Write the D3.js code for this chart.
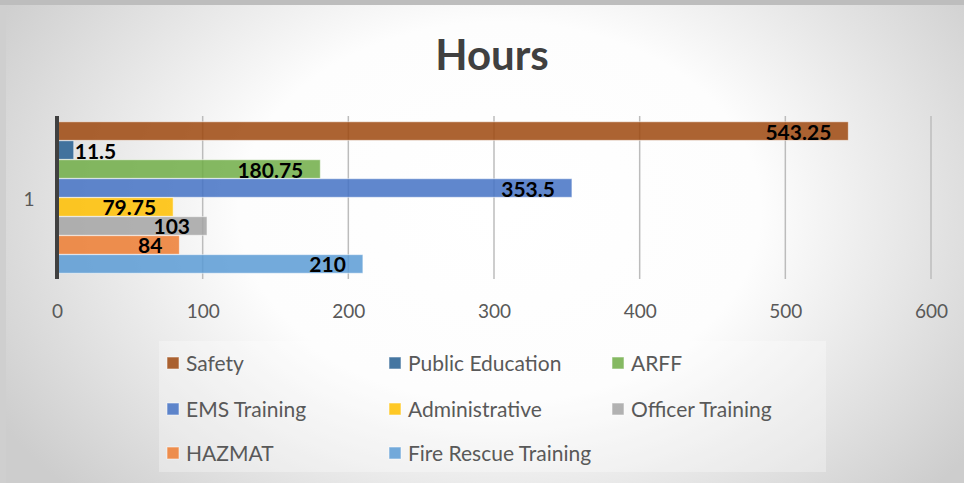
<!DOCTYPE html>
<html>
<head>
<meta charset="utf-8">
<script src="https://cdn.jsdelivr.net/npm/d3@7"></script>
<style>
  html, body { margin: 0; padding: 0; background: #d0d0d0; }
  svg { display: block; }
</style>
</head>
<body>
<div id="chart"></div>
<script>
// data
let categories = ["1"];
let seriesNames = ["Safety", "Public Education", "ARFF", "EMS Training",
                   "Administrative", "Officer Training", "HAZMAT", "Fire Rescue Training"];
let seriesValues = [543.25, 11.5, 180.75, 353.5, 79.75, 103, 84, 210];
let seriesColors = ["#9E480E", "#255E91", "#70AD47", "#4472C4",
                    "#FFC000", "#A5A5A5", "#ED7D31", "#5B9BD5"];
let xTicks = [0, 100, 200, 300, 400, 500, 600];

let width = 964, height = 483;

let svg = d3.select("#chart").append("svg")
  .attr("width", width)
  .attr("height", height);

// background gradient
let defs = svg.append("defs");
let grad = defs.append("radialGradient")
  .attr("id", "bg")
  .attr("gradientUnits", "userSpaceOnUse")
  .attr("cx", 500).attr("cy", 210).attr("r", 580)
  .attr("gradientTransform", "translate(500,210) scale(1,0.72) translate(-500,-210)");
grad.append("stop").attr("offset", 0).attr("stop-color", "#ffffff");
grad.append("stop").attr("offset", 0.45).attr("stop-color", "#fdfdfd");
grad.append("stop").attr("offset", 1).attr("stop-color", "#cdcdcd");

svg.append("rect").attr("width", width).attr("height", height).attr("fill", "#cfcfcf");
svg.append("rect").attr("x", 6).attr("y", 5).attr("width", width - 6).attr("height", height - 5)
  .attr("fill", "url(#bg)");
svg.append("rect").attr("width", width).attr("height", 5).attr("fill", "#bdbdbd");

// scales
let x = d3.scaleLinear().domain([0, 600]).range([57, 931]);
let y0 = d3.scaleBand().domain(categories).range([117, 278]);
let y1 = d3.scaleBand().domain(seriesNames).range([0, y0.bandwidth()])
  .paddingInner(0.02).paddingOuter(0.25);

// gridlines
svg.append("g")
  .selectAll("line").data(xTicks.slice(1)).enter().append("line")
  .attr("x1", d => x(d)).attr("x2", d => x(d))
  .attr("y1", 116).attr("y2", 279)
  .attr("stroke", "#bcbcbc").attr("stroke-width", 1.5);

// x axis labels
let xAxis = d3.axisBottom(x).tickValues(xTicks).tickSize(0).tickPadding(0);
let gx = svg.append("g").attr("transform", "translate(0,304)").call(xAxis);
gx.select(".domain").remove();
gx.selectAll("text")
  .attr("font-family", "Lato, sans-serif").attr("font-size", 19)
  .attr("fill", "#595959").attr("dy", "0.71em");

// bars
let group = svg.append("g").selectAll("g").data(categories).enter().append("g")
  .attr("transform", d => `translate(0,${y0(d)})`);

let rows = seriesNames.map((n, i) => ({ name: n, value: seriesValues[i], color: seriesColors[i] }));

group.selectAll("rect").data(rows).enter().append("rect")
  .attr("x", x(0))
  .attr("y", d => y1(d.name))
  .attr("width", d => x(d.value) - x(0))
  .attr("height", y1.bandwidth())
  .attr("fill", d => d.color)
  .attr("fill-opacity", 0.85)
  .attr("stroke", "#ffffff").attr("stroke-opacity", 0.55).attr("stroke-width", 1);

// data labels
group.selectAll("text.lbl").data(rows).enter().append("text")
  .attr("class", "lbl")
  .attr("font-family", "Lato, sans-serif").attr("font-weight", "bold").attr("font-size", 21)
  .attr("fill", "#000")
  .attr("y", d => y1(d.name) + y1.bandwidth() / 2 + 8.5)
  .text(d => d.value)
  .each(function (d) {
    let w = this.getComputedTextLength();
    let end = x(d.value);
    if (end - x(0) < w + 20) {
      d3.select(this).attr("x", end + 1).attr("text-anchor", "start");
    } else {
      d3.select(this).attr("x", end - 17).attr("text-anchor", "end");
    }
  });

// category axis
svg.append("line")
  .attr("x1", x(0)).attr("x2", x(0)).attr("y1", 116).attr("y2", 279)
  .attr("stroke", "#404040").attr("stroke-width", 4);
svg.append("g").selectAll("text").data(categories).enter().append("text")
  .attr("x", 29).attr("y", d => y0(d) + y0.bandwidth() / 2 + 8)
  .attr("text-anchor", "middle")
  .attr("font-family", "Lato, sans-serif").attr("font-size", 19).attr("fill", "#595959")
  .text(d => d);

// title
svg.append("text")
  .attr("x", 492).attr("y", 70).attr("text-anchor", "middle")
  .attr("font-family", "Lato, sans-serif").attr("font-weight", "bold").attr("font-size", 42)
  .attr("fill", "#404040")
  .text("Hours");

// legend
svg.append("rect")
  .attr("x", 159).attr("y", 341).attr("width", 667).attr("height", 131)
  .attr("fill", "#ffffff").attr("fill-opacity", 0.3);

let colX = [167, 389, 612], rowY = [363, 409, 453];
let leg = svg.append("g").selectAll("g").data(rows).enter().append("g")
  .attr("transform", (d, i) => `translate(${colX[i % 3]},${rowY[Math.floor(i / 3)]})`);
leg.append("rect")
  .attr("x", 0).attr("y", -6).attr("width", 12).attr("height", 12)
  .attr("fill", d => d.color).attr("fill-opacity", 0.85)
  .attr("stroke", "#fff").attr("stroke-opacity", 0.55);
leg.append("text")
  .attr("x", 19).attr("y", 7.5)
  .attr("font-family", "Lato, sans-serif").attr("font-size", 21).attr("fill", "#595959")
  .text(d => d.name);
</script>
</body>
</html>
